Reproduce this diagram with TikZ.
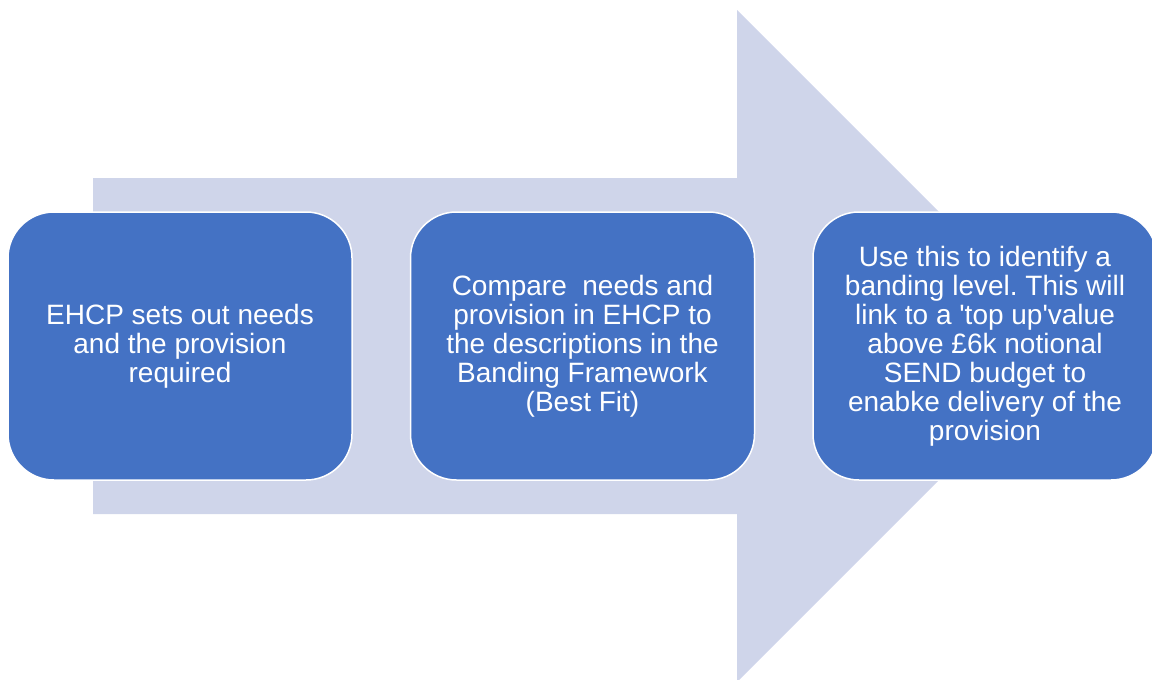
\documentclass[tikz,border=0pt]{standalone}
\usepackage{fontspec}
\setmainfont{Liberation Sans}
\frenchspacing
\definecolor{stagefill}{HTML}{4472C4}
\definecolor{flowband}{HTML}{CFD5EA}

\begin{document}
\begin{tikzpicture}[x=1pt,y=-1pt,
  stage/.style={draw=white,line width=1.5pt,fill=stagefill,rounded corners=46pt,
    minimum width=344pt,minimum height=268pt,inner sep=0pt,
    text=white,align=center,font=\fontsize{28}{29}\selectfont}]
  \useasboundingbox (0,0) rectangle (1152,680);
  \clip (0,0) rectangle (1152,680);
  % background arrow
  \fill[flowband] (93,178) -- (737,178) -- (737,10) -- (1073,346)
    -- (737,682) -- (737,514) -- (93,514) -- cycle;
  \node[stage] (plan) at (180,346) {EHCP sets out needs\\and the provision\\required};
  \node[stage] (compare) at (582.5,346) {Compare\ \ needs and\\provision in EHCP to\\the descriptions in the\\Banding Framework\\(Best Fit)};
  \node[stage] (band) at (985,346) {Use this to identify a\\banding level. This will\\link to a \textquotesingle top up\textquotesingle value\\above £6k notional\\SEND budget to\\enabke delivery of the\\provision};
\end{tikzpicture}
\end{document}
